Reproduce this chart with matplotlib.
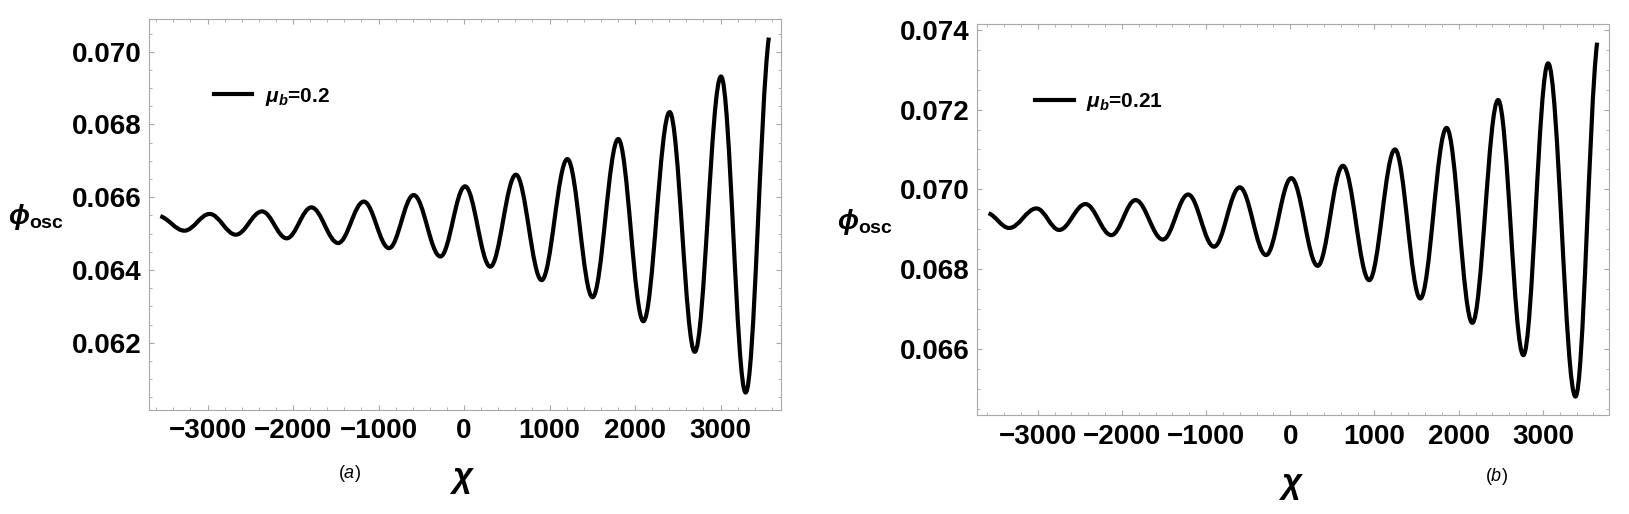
import matplotlib
matplotlib.use('Agg')
import matplotlib.pyplot as plt
from matplotlib.path import Path
from matplotlib.patches import PathPatch
from matplotlib.lines import Line2D
from matplotlib.ticker import MultipleLocator, FuncFormatter
from matplotlib.font_manager import FontProperties

W, H = 1629, 514

# ---- data: extrema (and end points) of the curves ----
chi_a = [-3552, -3270, -2975, -2669, -2362, -2074, -1785, -1472, -1172, -877,
         -589, -276, 12, 307, 607, 908, 1209, 1503, 1804, 2098, 2405, 2699,
         3006, 3294, 3565]
phi_a = [0.06548, 0.06508, 0.06554, 0.06497, 0.06561, 0.06487, 0.06572,
         0.06474, 0.06588, 0.06460, 0.06606, 0.06437, 0.06630, 0.06409,
         0.06662, 0.06372, 0.06705, 0.06325, 0.06760, 0.06259, 0.06834,
         0.06175, 0.06932, 0.06063, 0.07039]

chi_b = [-3583, -3338, -3014, -2744, -2432, -2125, -1838, -1513, -1213, -906,
         -600, -288, 12, 325, 625, 937, 1243, 1544, 1856, 2162, 2468, 2768,
         3062, 3387, 3644]
phi_b = [0.06940, 0.06903, 0.06952, 0.06898, 0.06963, 0.06885, 0.06973,
         0.06874, 0.06987, 0.06856, 0.07005, 0.06835, 0.07028, 0.06808,
         0.07059, 0.06772, 0.07100, 0.06726, 0.07154, 0.06665, 0.07224,
         0.06584, 0.07316, 0.06480, 0.07368]

legend_labels = [r'$\mu_b$=0.2', r'$\mu_b$=0.21']
panel_tags = ['a', 'b']
xticks = [-3000, -2000, -1000, 0, 1000, 2000, 3000]
yticks_a = [0.062, 0.064, 0.066, 0.068, 0.070]
yticks_b = [0.066, 0.068, 0.070, 0.072, 0.074]
xlim_a = (-3681, 3711)
ylim_a = (0.06015, 0.0709)
xlim_b = (-3717, 3785)
ylim_b = (0.06433, 0.07414)

plt.rcParams['font.family'] = ['Liberation Sans', 'DejaVu Sans']
plt.rcParams['mathtext.fontset'] = 'custom'
plt.rcParams['mathtext.rm'] = 'Liberation Sans:bold'
plt.rcParams['mathtext.it'] = 'Liberation Sans:italic:bold'
plt.rcParams['mathtext.bf'] = 'Liberation Sans:bold'
plt.rcParams['mathtext.sf'] = 'Liberation Sans:italic'


def smooth_path(xs, ys, a=0.364, end_factor=0.5):
    n = len(xs)
    slopes = [0.0] * n
    slopes[0] = end_factor * (ys[1] - ys[0]) / (xs[1] - xs[0])
    slopes[-1] = end_factor * (ys[-1] - ys[-2]) / (xs[-1] - xs[-2])
    verts = [(xs[0], ys[0])]
    codes = [Path.MOVETO]
    for i in range(n - 1):
        h = xs[i + 1] - xs[i]
        verts += [(xs[i] + a * h, ys[i] + a * h * slopes[i]),
                  (xs[i + 1] - a * h, ys[i + 1] - a * h * slopes[i + 1]),
                  (xs[i + 1], ys[i + 1])]
        codes += [Path.CURVE4] * 3
    return Path(verts, codes)


fig = plt.figure(figsize=(W / 100, H / 100), dpi=100)


def px_rect(l, t, r, b):
    return [l / W, 1 - b / H, (r - l) / W, (b - t) / H]


ax_a = fig.add_axes(px_rect(149.3, 19, 781.3, 410))
ax_b = fig.add_axes(px_rect(977.3, 24.3, 1609, 415.3))

frame_col = '#a8a8a8'
tick_font = FontProperties(family='Liberation Sans', weight='bold', size=20)
leg_font = FontProperties(family='Liberation Sans', weight='bold', size=15)

panels = [
    (ax_a, chi_a, phi_a, xlim_a, ylim_a, yticks_a, legend_labels[0], (0.1016, 0.8013)),
    (ax_b, chi_b, phi_b, xlim_b, ylim_b, yticks_b, legend_labels[1], (0.0918, 0.8005)),
]

for ax, xs, ys, xl, yl, yt, lab, lpos in panels:
    ax.add_patch(PathPatch(smooth_path(xs, ys), fill=False, edgecolor='black',
                           lw=3.0, capstyle='butt', joinstyle='round'))
    ax.set_xlim(*xl)
    ax.set_ylim(*yl)
    ax.set_xticks(xticks)
    ax.set_yticks(yt)
    ax.xaxis.set_minor_locator(MultipleLocator(200))
    ax.yaxis.set_minor_locator(MultipleLocator(0.0005))
    ax.xaxis.set_major_formatter(FuncFormatter(lambda v, p: f'{v:.0f}'.replace('-', '\u2212')))
    ax.yaxis.set_major_formatter(FuncFormatter(lambda v, p: f'{v:.3f}'))
    ax.tick_params(which='both', direction='in', top=True, right=True, color=frame_col)
    ax.tick_params(which='major', length=3.5, width=0.8)
    ax.tick_params(which='minor', length=2.0, width=0.6)
    ax.tick_params(axis='y', which='major', pad=5.5)
    ax.tick_params(axis='x', which='major', pad=6)
    for t in ax.get_xticklabels() + ax.get_yticklabels():
        t.set_fontproperties(tick_font)
    for s in ax.spines.values():
        s.set_color(frame_col)
        s.set_linewidth(0.8)
    ax.legend(handles=[Line2D([], [], color='black', lw=3.0)], labels=[lab],
              loc='center left', bbox_to_anchor=lpos, frameon=False,
              borderpad=0, borderaxespad=0, handlelength=1.85,
              handletextpad=0.6, prop=leg_font)


def ftext(x, y, s, **kw):
    fig.text(x / W, 1 - y / H, s, ha='center', va='center', **kw)


ftext(35.6, 216.7, r'$\phi_{\mathrm{osc}}$', fontsize=20)
ftext(865, 221.7, r'$\phi_{\mathrm{osc}}$', fontsize=20)
ftext(462.4, 480, r'$\chi$', fontsize=25)
ftext(1291.4, 485, r'$\chi$', fontsize=25)
ftext(349.8, 473, '(' + r'$\mathsf{' + panel_tags[0] + '}$' + ')', fontsize=13)
ftext(1496.6, 476.7, '(' + r'$\mathsf{' + panel_tags[1] + '}$' + ')', fontsize=13)

fig.savefig('out.png', dpi=100)
